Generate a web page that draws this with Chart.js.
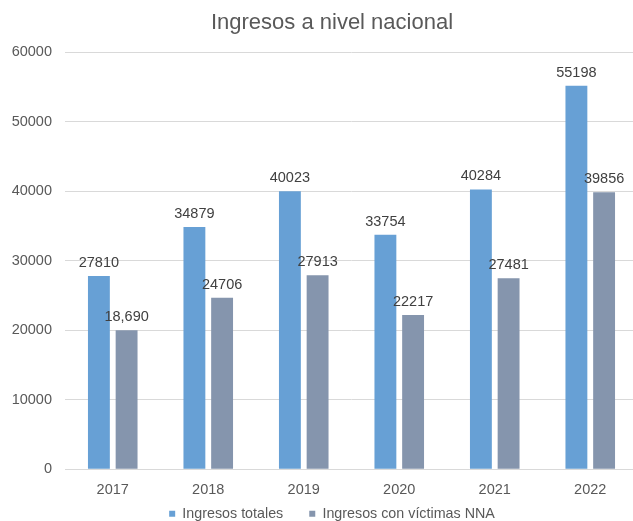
<!DOCTYPE html>
<html>
<head>
<meta charset="utf-8">
<script src="https://cdn.jsdelivr.net/npm/chart.js@4.4.0/dist/chart.umd.min.js"></script>
<style>
  html, body { margin: 0; padding: 0; background: #fff; overflow: hidden; }
  #wrap { width: 664px; height: 521px; }
</style>
</head>
<body>
<div id="wrap"><canvas id="grafico"></canvas></div>
<script>
const anios = ['2017', '2018', '2019', '2020', '2021', '2022'];
const ingresosTotales = [27810, 34879, 40023, 33754, 40284, 55198];
const ingresosNNA = [20000, 24706, 27913, 22217, 27481, 39856];
// etiquetas tal como aparecen en el grafico
const etiquetasTotales = ['27810', '34879', '40023', '33754', '40284', '55198'];
const etiquetasNNA = ['18,690', '24706', '27913', '22217', '27481', '39856'];
const ticksY = [0, 10000, 20000, 30000, 40000, 50000, 60000];

const FUENTE = "'Liberation Sans', Arial, sans-serif";

const etiquetasBarras = {
    id: 'etiquetasBarras',
    afterLayout(chart) {
        // que las etiquetas de los ejes no se recorten
        chart.scales.y.left = 0;
        chart.scales.x.bottom = chart.height;
    },
    afterDatasetsDraw(chart) {
        const ctx = chart.ctx;
        const textos = [etiquetasTotales, etiquetasNNA];
        ctx.save();
        ctx.font = '14.5px ' + FUENTE;
        ctx.fillStyle = '#404040';
        ctx.textAlign = 'center';
        ctx.textBaseline = 'middle';
        chart.data.datasets.forEach((ds, i) => {
            chart.getDatasetMeta(i).data.forEach((bar, j) => {
                ctx.fillText(textos[i][j], bar.x, bar.y - 13);
            });
        });
        ctx.restore();
    }
};

new Chart(document.getElementById('grafico'), {
    type: 'bar',
    data: {
        labels: anios,
        datasets: [{
            label: 'Ingresos totales',
            data: ingresosTotales,
            backgroundColor: '#67a0d5',
            categoryPercentage: 0.58,
            barPercentage: 0.79
        }, {
            label: 'Ingresos con víctimas NNA',
            data: ingresosNNA,
            backgroundColor: '#8595ad',
            categoryPercentage: 0.58,
            barPercentage: 0.79
        }]
    },
    options: {
        responsive: true,
        maintainAspectRatio: false,
        animation: false,
        layout: { padding: { left: 26, right: 26, top: 10, bottom: -10 } },
        plugins: {
            title: {
                display: true,
                text: 'Ingresos a nivel nacional',
                color: '#595959',
                font: { family: FUENTE, size: 22, weight: 'normal' },
                padding: { top: 0, bottom: 16 }
            },
            legend: {
                position: 'bottom',
                labels: {
                    color: '#595959',
                    font: { family: FUENTE, size: 14.3 },
                    boxWidth: 6,
                    boxHeight: 6,
                    padding: 26
                }
            },
            tooltip: { enabled: false }
        },
        scales: {
            y: {
                min: 0,
                max: 60000,
                afterBuildTicks: axis => { axis.ticks = ticksY.map(v => ({ value: v })); },
                afterFit: axis => { axis.width = 39; },
                ticks: {
                    color: '#595959',
                    font: { family: FUENTE, size: 14.5 },
                    padding: 13,
                    callback: v => String(v)
                },
                grid: { color: '#d9d9d9', drawTicks: false },
                border: { display: false }
            },
            x: {
                afterFit: axis => { axis.height -= 22; },
                ticks: {
                    color: '#595959',
                    font: { family: FUENTE, size: 14.5 },
                    padding: 4
                },
                grid: { display: false },
                border: { color: '#d9d9d9' }
            }
        }
    },
    plugins: [etiquetasBarras]
});
</script>
</body>
</html>
